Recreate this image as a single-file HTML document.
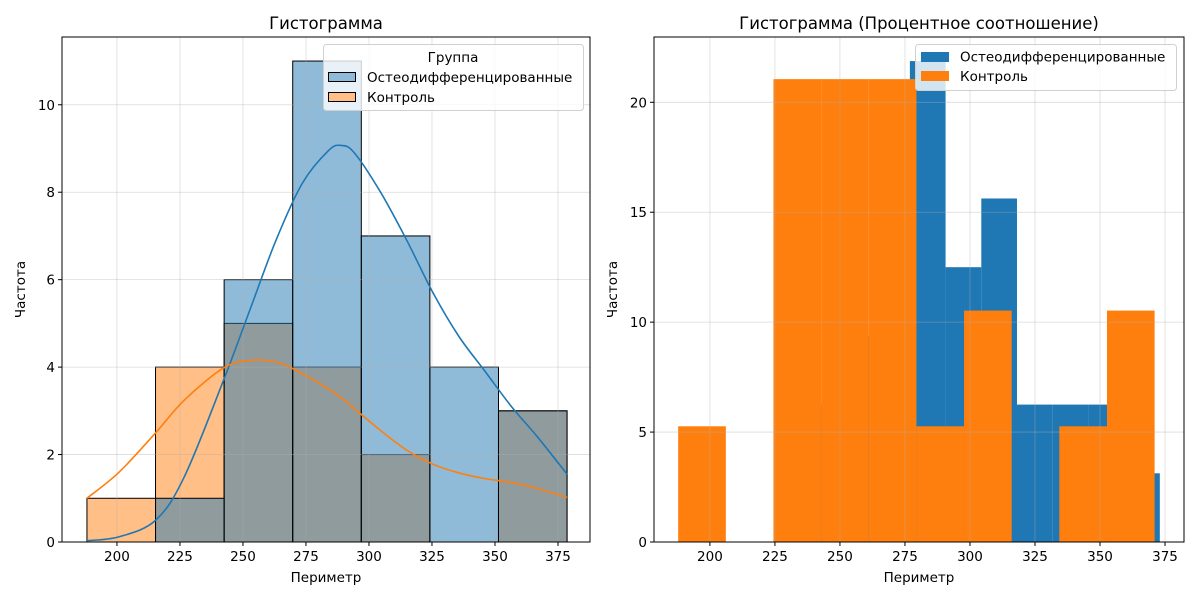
<!DOCTYPE html>
<html><head><meta charset="utf-8"><style>
html,body{margin:0;padding:0;background:#fff;}
svg{display:block;font-family:"DejaVu Sans","Liberation Sans",sans-serif;}
</style></head><body>
<svg id="fig" width="1200" height="600" viewBox="0 0 1200 600"></svg>
<script>
// ---- data ----
const leftEdges = [188.1, 215.31, 242.53, 269.74, 296.96, 324.17, 351.39, 378.6];
const osteoCounts = [0, 1, 6, 11, 7, 4, 3];
const controlCounts = [1, 4, 5, 4, 2, 0, 3];
const kdeX = [188.1, 200.9, 215.4, 226.8, 242.3, 252.7, 263.1, 273.5, 283.9, 289.0, 294.2, 304.6, 315.0, 325.4, 335.7, 346.1, 356.5, 366.9, 378.6];
const osteoKde = [0.03, 0.12, 0.5, 1.5, 3.7, 5.3, 6.9, 8.2, 8.95, 9.07, 8.9, 8.0, 6.9, 5.7, 4.7, 3.9, 3.1, 2.4, 1.55];
const controlKde = [1.0, 1.6, 2.5, 3.25, 3.98, 4.15, 4.12, 3.85, 3.5, 3.3, 3.05, 2.55, 2.1, 1.78, 1.58, 1.45, 1.36, 1.22, 1.02];
const osteoEdges = [235.7, 249.43, 263.16, 276.89, 290.62, 304.35, 318.08, 331.81, 345.54, 359.27, 373.0];
const osteoPct = [6.25, 9.375, 12.5, 21.875, 12.5, 15.625, 6.25, 6.25, 6.25, 3.125];
const controlEdges = [187.8, 206.12, 224.44, 242.76, 261.08, 279.4, 297.72, 316.04, 334.36, 352.68, 371.0];
const controlPct = [5.263, 0, 21.053, 21.053, 21.053, 5.263, 10.526, 0, 5.263, 10.526];
const xTicks = [200, 225, 250, 275, 300, 325, 350, 375];
const leftYTicks = [0, 2, 4, 6, 8, 10];
const rightYTicks = [0, 5, 10, 15, 20];

const NS = "http://www.w3.org/2000/svg";
const svg = document.getElementById('fig');
function mk(tag, attrs, parent, txt){
  const e = document.createElementNS(NS, tag);
  for (const k in attrs) e.setAttribute(k, attrs[k]);
  if (txt !== undefined) e.textContent = txt;
  (parent || svg).appendChild(e);
  return e;
}
function axes(x0, x1, y0, y1, xmin, xmax, ymax){
  return {
    sx: v => x0 + (v - xmin) / (xmax - xmin) * (x1 - x0),
    sy: v => y1 - v / ymax * (y1 - y0), x0, x1, y0, y1
  };
}
function drawGrid(A, g, yt){
  xTicks.forEach(t => {
    const l = mk('line', {x1: A.sx(t), x2: A.sx(t), y1: A.y0, y2: A.y1, stroke: '#b0b0b0', 'stroke-opacity': 0.45, 'stroke-width': 0.8}, g);
    
    
  });
  yt.forEach(t => {
    const l = mk('line', {x1: A.x0, x2: A.x1, y1: A.sy(t), y2: A.sy(t), stroke: '#b0b0b0', 'stroke-opacity': 0.45, 'stroke-width': 0.8}, g);
    
    
  });
}
function drawAxes(A, g, yt, title, tcx){
  mk('rect', {x: A.x0, y: A.y0, width: A.x1 - A.x0, height: A.y1 - A.y0, fill: 'none', stroke: '#000', 'stroke-width': 1}, g);
  xTicks.forEach(t => {
    mk('line', {x1: A.sx(t), x2: A.sx(t), y1: A.y1, y2: A.y1 + 4, stroke: '#000'}, g);
    const tx = mk('text', {x: A.sx(t), y: A.y1 + 19, 'text-anchor': 'middle', 'font-size': 13.5}, g, t);
    
    
  });
  yt.forEach(t => {
    mk('line', {x1: A.x0 - 4, x2: A.x0, y1: A.sy(t), y2: A.sy(t), stroke: '#000'}, g);
    const tx = mk('text', {x: A.x0 - 7, y: A.sy(t) + 5, 'text-anchor': 'end', 'font-size': 13.5}, g, t);
    
    
  });
  const xl = mk('text', {x: (A.x0 + A.x1) / 2, y: 582, 'text-anchor': 'middle', 'font-size': 13.5}, g, 'Периметр');
  
  
  const yx = A.x0 - 37, yy = (A.y0 + A.y1) / 2;
  const yl = mk('text', {x: yx, y: yy, 'text-anchor': 'middle', 'font-size': 13.5, transform: `rotate(-90 ${yx} ${yy})`}, g, 'Частота');
  
  
  const ti = mk('text', {x: tcx, y: 29, 'text-anchor': 'middle', 'font-size': 16.5}, g, title);
  
  
}

// ---- left chart ----
const L = axes(62, 590, 37, 542, 178.2, 387.7, 11.55);
const gL = mk('g', {});  
function histBars(counts, color, name){
  counts.forEach((c, i) => {
    if (c <= 0) return;
    const r = mk('rect', {x: L.sx(leftEdges[i]), y: L.sy(c), width: L.sx(leftEdges[i+1]) - L.sx(leftEdges[i]), height: L.sy(0) - L.sy(c), fill: color, 'fill-opacity': 0.5, stroke: '#000', 'stroke-width': 1}, gL);
    
    
  });
}
histBars(controlCounts, '#ff7f0e', 'control-bar');
histBars(osteoCounts, '#1f77b4', 'osteo-bar');
drawGrid(L, gL, leftYTicks);
function smoothPath(pts){
  let d = 'M' + pts[0][0] + ',' + pts[0][1];
  for (let i = 0; i < pts.length - 1; i++){
    const p0 = pts[Math.max(0, i-1)], p1 = pts[i], p2 = pts[i+1], p3 = pts[Math.min(pts.length-1, i+2)];
    const c1 = [p1[0] + (p2[0]-p0[0])/6, p1[1] + (p2[1]-p0[1])/6];
    const c2 = [p2[0] - (p3[0]-p1[0])/6, p2[1] - (p3[1]-p1[1])/6];
    d += ' C' + c1[0] + ',' + c1[1] + ' ' + c2[0] + ',' + c2[1] + ' ' + p2[0] + ',' + p2[1];
  }
  return d;
}
function kdeLine(vals, color, name){
  const pts = kdeX.map((x, i) => [L.sx(x), L.sy(vals[i])]);
  const p = mk('path', {d: smoothPath(pts), fill: 'none', stroke: color, 'stroke-width': 1.6, 'stroke-linejoin': 'round'}, gL);
  
  
}
kdeLine(osteoKde, '#1f77b4', 'osteo-kde-line');
kdeLine(controlKde, '#ff7f0e', 'control-kde-line');
drawAxes(L, gL, leftYTicks, 'Гистограмма', 326);

// left legend
const lg = mk('g', {});  
mk('rect', {x: 323.5, y: 44.5, width: 260, height: 66, rx: 3, fill: '#fff', 'fill-opacity': 0.8, stroke: '#d0d0d0'}, lg);
mk('text', {x: 453, y: 62, 'text-anchor': 'middle', 'font-size': 13.5}, lg, 'Группа');
const le1 = mk('g', {}, lg);  
mk('rect', {x: 328.5, y: 72.5, width: 27, height: 9, fill: '#8fbbd9', stroke: '#000'}, le1);
mk('text', {x: 367, y: 82, 'font-size': 13.5}, le1, 'Остеодифференцированные');
const le2 = mk('g', {}, lg);  
mk('rect', {x: 328.5, y: 92.5, width: 27, height: 9, fill: '#ffbf86', stroke: '#000'}, le2);
mk('text', {x: 367, y: 102, 'font-size': 13.5}, le2, 'Контроль');

// ---- right chart ----
const R = axes(654, 1184, 37, 542, 178.5, 382.3, 22.97);
const gR = mk('g', {});  
function pctBars(edges, vals, color, name){
  vals.forEach((v, i) => {
    if (v <= 0) return;
    const r = mk('rect', {x: R.sx(edges[i]), y: R.sy(v), width: R.sx(edges[i+1]) - R.sx(edges[i]), height: R.sy(0) - R.sy(v), fill: color}, gR);
    
    
  });
}
pctBars(osteoEdges, osteoPct, '#1f77b4', 'osteo-pct-bar');
pctBars(controlEdges, controlPct, '#ff7f0e', 'control-pct-bar');
drawGrid(R, gR, rightYTicks);
drawAxes(R, gR, rightYTicks, 'Гистограмма (Процентное соотношение)', 919);

const rg = mk('g', {});  
mk('rect', {x: 915.5, y: 44.5, width: 261, height: 46, rx: 3, fill: '#fff', 'fill-opacity': 0.8, stroke: '#d0d0d0'}, rg);
const re1 = mk('g', {}, rg);  
mk('rect', {x: 921, y: 52, width: 28, height: 10, fill: '#1f77b4'}, re1);
mk('text', {x: 960, y: 61.5, 'font-size': 13.5}, re1, 'Остеодифференцированные');
const re2 = mk('g', {}, rg);  
mk('rect', {x: 921, y: 71, width: 28, height: 10, fill: '#ff7f0e'}, re2);
mk('text', {x: 960, y: 81, 'font-size': 13.5}, re2, 'Контроль');
</script>
</body></html>
